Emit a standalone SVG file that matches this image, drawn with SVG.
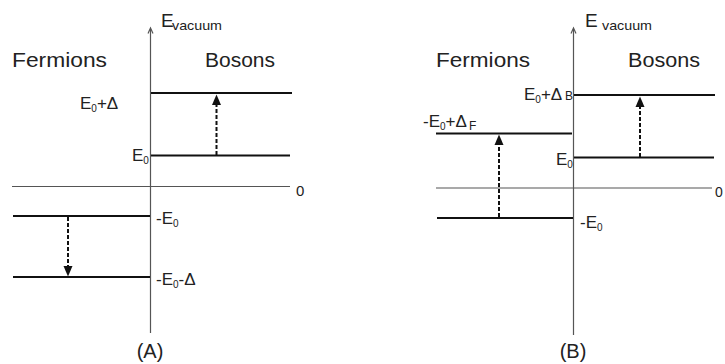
<svg xmlns="http://www.w3.org/2000/svg" width="725" height="364" viewBox="0 0 725 364">
<style>
text{font-family:"Liberation Sans",Arial,sans-serif;fill:#222}
.big{font-size:20px}
.lab{font-size:17px}
.sub{font-size:10px}
.axis{stroke:#555;stroke-width:1.2;fill:none}
.zero{stroke:#555;stroke-width:1.2}
.lvl{stroke:#111;stroke-width:2.2}
.dash{stroke:#111;stroke-width:2;stroke-dasharray:4 2}
.head{fill:#111}
</style>
<rect width="725" height="364" fill="#fff"/>
<g id="panelA">
  <g id="axisA">
    <line class="axis" x1="150.5" y1="333" x2="150.5" y2="29"/>
    <polyline class="axis" points="148,33.5 150.5,28 153,33.5"/>
    <text x="161" y="27" style="font-size:19px">E</text>
    <text x="172" y="30" style="font-size:13px" textLength="50" lengthAdjust="spacingAndGlyphs">vacuum</text>
    <line class="zero" x1="12" y1="186.5" x2="290" y2="186.5"/>
    <text x="296" y="196" style="font-size:15px">0</text>
    <text x="150" y="358" class="big" text-anchor="middle">(A)</text>
  </g>
  <g id="titlesA">
    <text x="12" y="67" class="big" textLength="95" lengthAdjust="spacingAndGlyphs">Fermions</text>
    <text x="205" y="67" class="big" textLength="70" lengthAdjust="spacingAndGlyphs">Bosons</text>
  </g>
  <g id="levelA_E0pD">
    <line class="lvl" x1="151" y1="93" x2="292" y2="93"/>
    <text x="80" y="109" class="lab">E<tspan class="sub" dy="3">0</tspan><tspan dy="-3">+Δ</tspan></text>
  </g>
  <g id="levelA_E0">
    <line class="lvl" x1="151" y1="155.5" x2="290" y2="155.5"/>
    <text x="132" y="161" class="lab">E<tspan class="sub" dy="3">0</tspan></text>
  </g>
  <g id="levelA_mE0">
    <line class="lvl" x1="13" y1="216" x2="150" y2="216"/>
    <text x="156" y="224" class="lab">-E<tspan class="sub" dy="3">0</tspan></text>
  </g>
  <g id="levelA_mE0mD">
    <line class="lvl" x1="13" y1="277" x2="150" y2="277"/>
    <text x="156" y="285" class="lab">-E<tspan class="sub" dy="3">0</tspan><tspan dy="-3">-Δ</tspan></text>
  </g>
</g>
<g id="panelB">
  <g id="axisB">
    <line class="axis" x1="573.5" y1="335" x2="573.5" y2="29"/>
    <polyline class="axis" points="571,33.5 573.5,28 576,33.5"/>
    <text x="585" y="27" style="font-size:19px">E</text>
    <text x="602" y="30" style="font-size:13px" textLength="50" lengthAdjust="spacingAndGlyphs">vacuum</text>
    <line class="zero" x1="436" y1="188" x2="712" y2="188"/>
    <text x="715" y="197" style="font-size:14px">0</text>
    <text x="573" y="358" class="big" text-anchor="middle">(B)</text>
  </g>
  <g id="titlesB">
    <text x="436" y="67" class="big" textLength="94" lengthAdjust="spacingAndGlyphs">Fermions</text>
    <text x="628" y="67" class="big" textLength="72" lengthAdjust="spacingAndGlyphs">Bosons</text>
  </g>
  <g id="levelB_E0pDB">
    <line class="lvl" x1="574" y1="95" x2="715" y2="95"/>
    <text x="524" y="100" class="lab">E<tspan class="sub" dy="3">0</tspan><tspan dy="-3">+Δ</tspan></text>
    <text x="565" y="100" style="font-size:12px">B</text>
  </g>
  <g id="levelB_E0">
    <line class="lvl" x1="574" y1="157.5" x2="714" y2="157.5"/>
    <text x="556" y="165" class="lab">E<tspan class="sub" dy="3">0</tspan></text>
  </g>
  <g id="levelB_mE0pDF">
    <line class="lvl" x1="436" y1="133.5" x2="572" y2="133.5"/>
    <text x="423" y="127" class="lab">-E<tspan class="sub" dy="3">0</tspan><tspan dy="-3">+Δ</tspan></text>
    <text x="469" y="130" style="font-size:12px">F</text>
  </g>
  <g id="levelB_mE0">
    <line class="lvl" x1="437" y1="218" x2="573" y2="218"/>
    <text x="580" y="228" class="lab">-E<tspan class="sub" dy="3">0</tspan></text>
  </g>
</g>
<g id="connectors">
  <line class="dash" x1="216.5" y1="155" x2="216.5" y2="104"/>
  <polygon class="head" points="212,105 221,105 216.5,94.5"/>
  <line class="dash" x1="68" y1="217" x2="68" y2="267"/>
  <polygon class="head" points="63.5,266 72.5,266 68,276.5"/>
  <line class="dash" x1="640" y1="157" x2="640" y2="106"/>
  <polygon class="head" points="635.5,107 644.5,107 640,96.5"/>
  <line class="dash" x1="499" y1="217" x2="499" y2="145"/>
  <polygon class="head" points="494.5,145 503.5,145 499,134.5"/>
</g>
</svg>
